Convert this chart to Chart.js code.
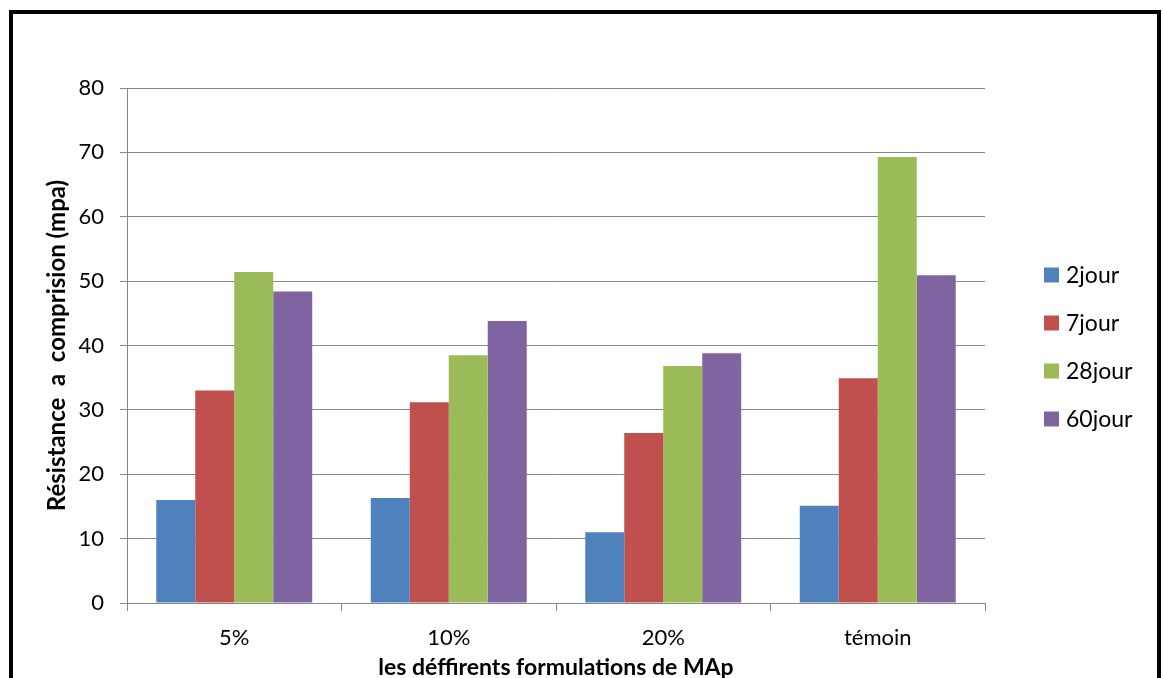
<!DOCTYPE html>
<html>
<head>
<meta charset="utf-8">
<script src="https://cdn.jsdelivr.net/npm/chart.js@4"></script>
<style>
  html, body { margin: 0; padding: 0; background: #fff; overflow: hidden; }
  #wrap { position: relative; width: 1163px; height: 678px; }
  #frame { position: absolute; left: 9px; top: 10px; width: 1144px; height: 700px;
           border: 4px solid #000; border-bottom: none; pointer-events: none; }
  canvas { position: absolute; left: 0; top: 0; }
</style>
</head>
<body>
<div id="wrap">
  <canvas id="c" width="1163" height="678"></canvas>
  <div id="frame"></div>
</div>
<script>
const categories = ['5%', '10%', '20%', 'témoin'];
const seriesNames = ['2jour', '7jour', '28jour', '60jour'];
const jour2 = [16.0, 16.3, 11.0, 15.1];
const jour7 = [33.0, 31.2, 26.4, 34.9];
const jour28 = [51.4, 38.5, 36.8, 69.3];
const jour60 = [48.4, 43.8, 38.8, 50.9];
const yTicks = [0, 10, 20, 30, 40, 50, 60, 70, 80];
const yTitle = 'Résistance  a  comprision (mpa)';
const xTitle = 'les déffirents formulations de MAp';

const colors = ['#4F81BD', '#C0504D', '#9BBB59', '#8064A2'];
const FONT = 'Lato, "Open Sans", "Liberation Sans", sans-serif';

const legendPlugin = {
  id: 'rightLegend',
  afterDraw(chart) {
    const ctx = chart.ctx;
    const ca = chart.chartArea;
    const n = chart.data.datasets.length;
    const step = 48;
    const cy = (ca.top + ca.bottom) / 2 + 1.5;
    const x = ca.right + 59;
    ctx.save();
    ctx.font = '23px ' + FONT;
    ctx.textBaseline = 'middle';
    ctx.textAlign = 'left';
    chart.data.datasets.forEach((ds, i) => {
      const y = cy + (i - (n - 1) / 2) * step;
      ctx.fillStyle = ds.backgroundColor;
      ctx.fillRect(x, y - 7.5, 15, 15);
      ctx.fillStyle = '#000';
      ctx.fillText(ds.label, x + 22, y + 1);
    });
    ctx.restore();
  }
};

const vals = [jour2, jour7, jour28, jour60];
new Chart(document.getElementById('c'), {
  type: 'bar',
  data: {
    labels: categories,
    datasets: seriesNames.map((name, i) => ({
      label: name,
      data: vals[i],
      backgroundColor: colors[i],
      borderWidth: 0,
      barPercentage: 1.0,
      categoryPercentage: 0.727
    }))
  },
  options: {
    responsive: false,
    animation: false,
    devicePixelRatio: 1,
    layout: { padding: { left: 34, right: 178, top: 88, bottom: 0 } },
    plugins: { legend: { display: false }, tooltip: { enabled: false } },
    scales: {
      x: {
        grid: { drawOnChartArea: false, offset: true, color: '#868686', tickLength: 8, lineWidth: 1 },
        border: { color: '#868686', width: 1 },
        ticks: { color: '#000', font: { family: FONT, size: 22 }, padding: 14 },
        title: { display: true, text: xTitle, color: '#000',
                 font: { family: FONT, size: 23, weight: 'bold' }, padding: { top: 0, bottom: -3 } },
        afterFit(scale) { scale.height = 75; }
      },
      y: {
        min: 0, max: 80,
        afterBuildTicks(scale) { scale.ticks = yTicks.map(v => ({ value: v })); },
        grid: { color: '#868686', lineWidth: 1, tickLength: 7 },
        border: { color: '#868686', width: 1 },
        ticks: { color: '#000', font: { family: FONT, size: 22 }, padding: 16 },
        title: { display: true, text: yTitle, color: '#000',
                 font: { family: FONT, size: 24, weight: 'bold' }, padding: { top: 9, bottom: 0 } },
        afterFit(scale) { scale.width = 127 - 34; }
      }
    }
  },
  plugins: [legendPlugin]
});
</script>
</body>
</html>
